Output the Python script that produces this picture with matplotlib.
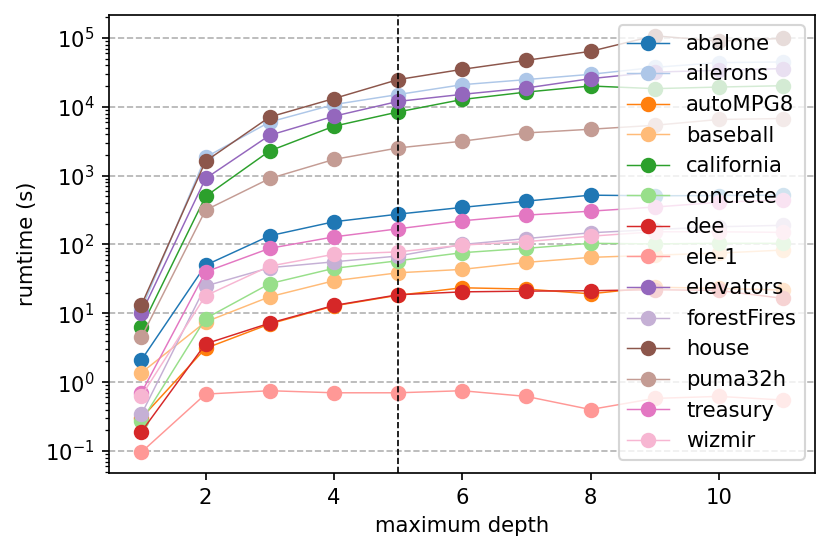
import numpy as np
import matplotlib
matplotlib.use('Agg')
import matplotlib.pyplot as plt

depths = [1, 2, 3, 4, 5, 6, 7, 8, 9, 10, 11]

abalone     = [2.1, 50, 134, 214, 276, 346, 427, 521, 510, 515, 520]
ailerons    = [11.5, 1850, 6030, 10800, 15100, 21000, 24900, 29700, 37500, 44000, 44900]
autoMPG8    = [0.30, 3.1, 7.0, 12.8, 18.3, 23.5, 22.5, 19.2, 24.0, 23.0, 21.8]
baseball    = [1.37, 7.5, 17.4, 29.7, 38.8, 43.5, 55, 65, 70, 75, 83]
california  = [6.3, 500, 2290, 5230, 8430, 12800, 16400, 20100, 18400, 19400, 20300]
concrete    = [0.27, 8.4, 27, 45, 58, 76, 88, 104, 102, 104, 104]
dee         = [0.19, 3.6, 7.2, 13.0, 18.6, 20.5, 21.0, 21.3, 22.0, 21.5, 16.5]
ele_1       = [0.096, 0.67, 0.75, 0.70, 0.70, 0.75, 0.62, 0.40, 0.58, 0.62, 0.55]
elevators   = [10.0, 910, 3870, 7310, 12000, 15200, 18800, 25700, 32000, 34000, 36000]
forestFires = [0.34, 24.9, 46, 56, 68, 100, 122, 148, 165, 181, 190]
house       = [13.2, 1620, 7130, 13200, 24900, 35100, 47500, 64100, 108000, 90000, 99000]
puma32h     = [4.5, 316, 910, 1720, 2530, 3170, 4180, 4730, 5400, 6560, 6770]
treasury    = [0.70, 40, 88, 129, 169, 221, 267, 305, 350, 410, 445]
wizmir      = [0.63, 18, 48.5, 72, 78, 98, 110, 132, 153, 153, 150]

names = ['abalone', 'ailerons', 'autoMPG8', 'baseball', 'california', 'concrete',
         'dee', 'ele-1', 'elevators', 'forestFires', 'house', 'puma32h',
         'treasury', 'wizmir']
series = [abalone, ailerons, autoMPG8, baseball, california, concrete, dee,
          ele_1, elevators, forestFires, house, puma32h, treasury, wizmir]

DPI = 152
fig = plt.figure(figsize=(830 / DPI, 553 / DPI), dpi=DPI)
ax = fig.add_subplot(111)
fig.subplots_adjust(left=0.1317, right=0.982, top=0.973, bottom=0.1447)

cmap = plt.get_cmap('tab20')
for i, (name, vals) in enumerate(zip(names, series)):
    ax.plot(depths, vals, marker='o', ms=6.3, lw=0.7, color=cmap(i), label=name)

ax.set_yscale('log')
ax.axvline(5, color='black', ls='--', lw=0.8)
ax.grid(axis='y', which='major', ls='--', color='0.7', lw=0.8)
ax.set_xlabel('maximum depth')
ax.set_ylabel('rumtime (s)')
ax.legend(loc='upper right')

fig.savefig('out.png', dpi=DPI)
